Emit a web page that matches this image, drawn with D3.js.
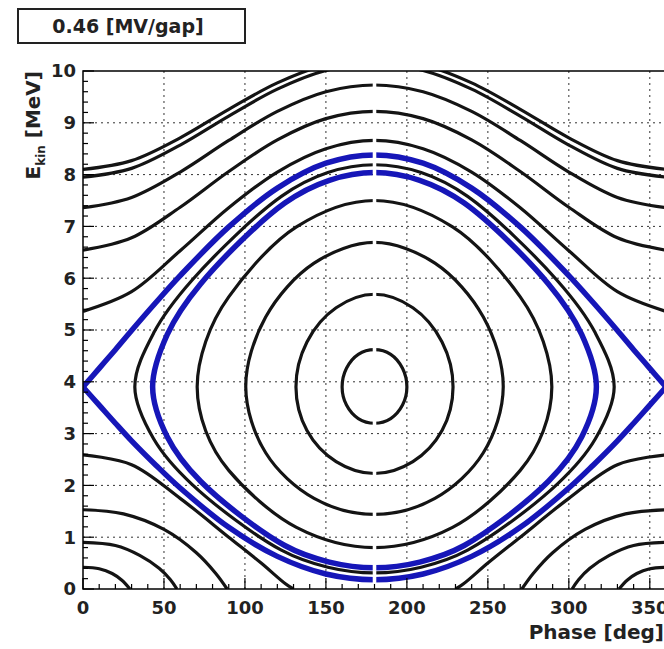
<!DOCTYPE html>
<html>
<head>
<meta charset="utf-8">
<title>Phase space</title>
<script src="https://cdn.jsdelivr.net/npm/d3@7"></script>
<style>
  body { margin: 0; background: #fff; }
  svg { display: block; }
</style>
</head>
<body>
<svg id="svg"></svg>
<script>
var WIDTH = 664;
var HEIGHT = 649;
var LEFT = 83, TOP = 71, RIGHT = 666, BOTTOM = 589;

var titleText = "0.46 [MV/gap]";
var xTicks = [0, 50, 100, 150, 200, 250, 300, 350];
var yTicks = [0, 1, 2, 3, 4, 5, 6, 7, 8, 9, 10];

// open trajectories above the bucket, E at each phase of phaseGrid
var phaseGrid = [0, 30, 60, 90, 120, 150, 180, 210, 240, 270, 300, 330, 360];
var upper1a = [7.95, 8.12, 8.57, 9.13, 9.65, 10.01, 10.14, 10.01, 9.65, 9.13, 8.57, 8.12, 7.95];
var upper1b = [8.10, 8.27, 8.71, 9.26, 9.77, 10.12, 10.25, 10.12, 9.77, 9.26, 8.71, 8.27, 8.10];
var upper2 = [7.36, 7.56, 8.05, 8.66, 9.22, 9.60, 9.73, 9.60, 9.22, 8.66, 8.05, 7.56, 7.36];
var upper3 = [6.54, 6.78, 7.37, 8.06, 8.67, 9.08, 9.22, 9.08, 8.67, 8.06, 7.37, 6.78, 6.54];
var upper4 = [5.36, 5.74, 6.53, 7.36, 8.05, 8.50, 8.66, 8.50, 8.05, 7.36, 6.53, 5.74, 5.36];

// separatrix (blue)
var sepPhase = [0, 10, 20, 30, 45, 60, 90, 120, 150, 180, 210, 240, 270, 300, 315, 330, 340, 350, 360];
var sepUpper = [3.9, 4.26, 4.62, 4.99, 5.53, 6.05, 6.99, 7.74, 8.22, 8.38, 8.22, 7.74, 6.99, 6.05, 5.53, 4.99, 4.62, 4.26, 3.9];
var sepLower = [3.9, 3.55, 3.2, 2.86, 2.39, 1.95, 1.19, 0.63, 0.29, 0.18, 0.29, 0.63, 1.19, 1.95, 2.39, 2.86, 3.2, 3.55, 3.9];

// closed orbits inside the bucket [phase, E]
var orbit1 = [[180,4.62],[190,4.53],[197.3,4.26],[200,3.9],[197.3,3.55],[190,3.29],[180,3.2],
              [170,3.29],[162.7,3.55],[160,3.9],[162.7,4.26],[170,4.53]];
var orbit2 = [[180,5.69],[203.7,5.43],[221.7,4.77],[228.5,3.9],[221.7,3.06],[203.7,2.46],[180,2.23],
              [156.3,2.46],[138.3,3.06],[131.5,3.9],[138.3,4.77],[156.3,5.43]];
var orbit3 = [[180,6.69],[217.3,6.29],[247.2,5.25],[259.5,3.9],[247.2,2.63],[217.3,1.75],[180,1.44],
              [142.7,1.75],[112.8,2.63],[100.5,3.9],[112.8,5.25],[142.7,6.29]];
var orbit4 = [[180,7.5],[228.2,6.99],[270,5.64],[284.2,4.78],[289.5,3.9],[284.2,3.05],[270,2.29],[228.2,1.19],[180,0.8],
              [131.8,1.19],[90,2.29],[75.8,3.05],[70.5,3.9],[75.8,4.78],[90,5.64],[131.8,6.99]];
var orbit5 = [[180,8.19],[208.8,8.04],[237.5,7.58],[292.7,5.96],[316.4,4.94],[328,3.9],[316.4,2.9],[292.7,2.02],
              [237.5,0.75],[208.8,0.42],[180,0.31],[151.2,0.42],[122.5,0.75],[67.3,2.02],[43.6,2.9],[32,3.9],
              [43.6,4.94],[67.3,5.96],[122.5,7.58],[151.2,8.04]];
var orbitBlue = [[180,8.04],[207.9,7.89],[235.4,7.45],[287.4,5.89],[308,4.91],[317,3.9],[308,2.94],[287.4,2.08],
                 [235.4,0.84],[207.9,0.52],[180,0.41],[152.1,0.52],[124.6,0.84],[72.6,2.08],[52,2.94],[43,3.9],
                 [52,4.91],[72.6,5.89],[124.6,7.45],[152.1,7.89]];

// open trajectories below the bucket, cut by E = 0
var lowLeft1 = [[0,2.59],[30,2.4],[60,1.75],[90,1.0],[110,0.5],[125,0.1],[130,0]];
var lowLeft2 = [[0,1.53],[25,1.45],[50,1.15],[70,0.7],[82,0.3],[89,0]];
var lowLeft3 = [[0,0.9],[20,0.84],[35,0.65],[47,0.4],[54,0.18],[58,0]];
var lowLeft4 = [[0,0.42],[10,0.39],[18,0.3],[24,0.17],[29,0]];
var lowRight1 = [[360,2.59],[330,2.4],[300,1.75],[270,1.0],[250,0.5],[235,0.1],[230,0]];
var lowRight2 = [[360,1.53],[335,1.45],[310,1.15],[290,0.7],[278,0.3],[271,0]];
var lowRight3 = [[360,0.9],[340,0.84],[325,0.65],[313,0.4],[306,0.18],[302,0]];
var lowRight4 = [[360,0.42],[350,0.39],[342,0.3],[336,0.17],[331,0]];

var FONT = "DejaVu Sans, Verdana, sans-serif";
var BLACK = "#141414";
var BLUE = "#1616b8";

var svg = d3.select("#svg")
            .attr("width", WIDTH)
            .attr("height", HEIGHT)
            .style("background", "#fff");

var xScale = d3.scaleLinear().domain([0, 360]).range([LEFT, RIGHT]);
var yScale = d3.scaleLinear().domain([0, 10]).range([BOTTOM, TOP]);

// clip: plot area with the thin gap at 180 deg that every trace shows
var defs = svg.append("defs");
var clip = defs.append("clipPath").attr("id", "plotclip");
clip.append("rect")
    .attr("x", LEFT).attr("y", TOP)
    .attr("width", xScale(178.9) - LEFT).attr("height", BOTTOM - TOP);
clip.append("rect")
    .attr("x", xScale(181.1)).attr("y", TOP)
    .attr("width", RIGHT - xScale(181.1)).attr("height", BOTTOM - TOP);

// grid
var grid = svg.append("g").attr("stroke", "#333").attr("stroke-width", 1)
              .attr("stroke-dasharray", "2,4");
grid.selectAll("line.gx").data(xTicks.slice(1))
    .enter().append("line")
    .attr("x1", function(d){ return xScale(d); })
    .attr("x2", function(d){ return xScale(d); })
    .attr("y1", TOP).attr("y2", BOTTOM);
grid.selectAll("line.gy").data(yTicks.slice(1, -1))
    .enter().append("line")
    .attr("y1", function(d){ return yScale(d); })
    .attr("y2", function(d){ return yScale(d); })
    .attr("x1", LEFT).attr("x2", RIGHT);

var openLine = d3.line()
                 .x(function(d){ return xScale(d[0]); })
                 .y(function(d){ return yScale(d[1]); })
                 .curve(d3.curveCatmullRom);
var closedLine = d3.line()
                   .x(function(d){ return xScale(d[0]); })
                   .y(function(d){ return yScale(d[1]); })
                   .curve(d3.curveCatmullRomClosed);

var curves = svg.append("g").attr("clip-path", "url(#plotclip)")
                .attr("fill", "none").attr("stroke-linecap", "butt");

var openUpper = [upper1a, upper1b, upper2, upper3, upper4];
curves.selectAll("path.up").data(openUpper)
      .enter().append("path")
      .attr("d", function(d){ return openLine(d3.zip(phaseGrid, d)); })
      .attr("stroke", BLACK).attr("stroke-width", 3.2);

var lows = [lowLeft1, lowLeft2, lowLeft3, lowLeft4, lowRight1, lowRight2, lowRight3, lowRight4];
curves.selectAll("path.low").data(lows)
      .enter().append("path")
      .attr("d", function(d){ return openLine(d); })
      .attr("stroke", BLACK).attr("stroke-width", 3.2);

var blackOrbits = [orbit1, orbit2, orbit3, orbit4, orbit5];
curves.selectAll("path.orb").data(blackOrbits)
      .enter().append("path")
      .attr("d", function(d){ return closedLine(d); })
      .attr("stroke", BLACK).attr("stroke-width", 3.2);

curves.append("path")
      .attr("d", closedLine(orbitBlue))
      .attr("stroke", BLUE).attr("stroke-width", 5.5);
curves.selectAll("path.sep").data([sepUpper, sepLower])
      .enter().append("path")
      .attr("d", function(d){ return openLine(d3.zip(sepPhase, d)); })
      .attr("stroke", BLUE).attr("stroke-width", 5.5);

// frame
svg.append("rect")
   .attr("x", LEFT).attr("y", TOP)
   .attr("width", RIGHT - LEFT).attr("height", BOTTOM - TOP)
   .attr("fill", "none").attr("stroke", "#000").attr("stroke-width", 1.5);

// y axis ticks (inside)
var yMinor = d3.range(0, 10.001, 0.2);
svg.append("g").selectAll("line").data(yMinor)
   .enter().append("line")
   .attr("x1", LEFT)
   .attr("x2", function(d){ return LEFT + (Math.abs(d - Math.round(d)) < 0.01 ? 11 : 5); })
   .attr("y1", function(d){ return yScale(d); })
   .attr("y2", function(d){ return yScale(d); })
   .attr("stroke", "#000").attr("stroke-width", 1.2);

// x axis ticks (inside)
var xMinor = d3.range(0, 361, 10);
svg.append("g").selectAll("line").data(xMinor)
   .enter().append("line")
   .attr("x1", function(d){ return xScale(d); })
   .attr("x2", function(d){ return xScale(d); })
   .attr("y1", BOTTOM)
   .attr("y2", function(d){ return BOTTOM - (d % 50 === 0 ? 11 : 5); })
   .attr("stroke", "#000").attr("stroke-width", 1.2);

// tick labels
svg.append("g").selectAll("text").data(yTicks)
   .enter().append("text")
   .attr("x", 76)
   .attr("y", function(d){ return yScale(d); })
   .attr("dy", "0.36em")
   .attr("text-anchor", "end")
   .attr("font-family", FONT).attr("font-size", "18px").attr("font-weight", "bold")
   .attr("fill", "#222")
   .text(function(d){ return d; });

svg.append("g").selectAll("text").data(xTicks)
   .enter().append("text")
   .attr("x", function(d){ return xScale(d); })
   .attr("y", 614)
   .attr("text-anchor", "middle")
   .attr("font-family", FONT).attr("font-size", "18px").attr("font-weight", "bold")
   .attr("fill", "#222")
   .text(function(d){ return d; });

// axis titles
svg.append("text")
   .attr("x", 664).attr("y", 639)
   .attr("text-anchor", "end")
   .attr("font-family", FONT).attr("font-size", "20px").attr("font-weight", "bold")
   .attr("fill", "#222")
   .text("Phase [deg]");

var yTitle = svg.append("text")
   .attr("transform", "translate(40," + TOP + ") rotate(-90)")
   .attr("text-anchor", "end")
   .attr("font-family", FONT).attr("font-size", "20px").attr("font-weight", "bold")
   .attr("fill", "#222");
yTitle.append("tspan").text("E");
yTitle.append("tspan").attr("font-size", "12px").attr("dy", "5").text("kin");
yTitle.append("tspan").attr("dy", "-5").text(" [MeV]");

// title box
svg.append("rect")
   .attr("x", 18).attr("y", 9)
   .attr("width", 227).attr("height", 34)
   .attr("fill", "#fff").attr("stroke", "#222").attr("stroke-width", 2);
svg.append("text")
   .attr("x", 128).attr("y", 33)
   .attr("text-anchor", "middle")
   .attr("font-family", FONT).attr("font-size", "19px").attr("font-weight", "bold")
   .attr("fill", "#222")
   .text(titleText);
</script>
</body>
</html>
